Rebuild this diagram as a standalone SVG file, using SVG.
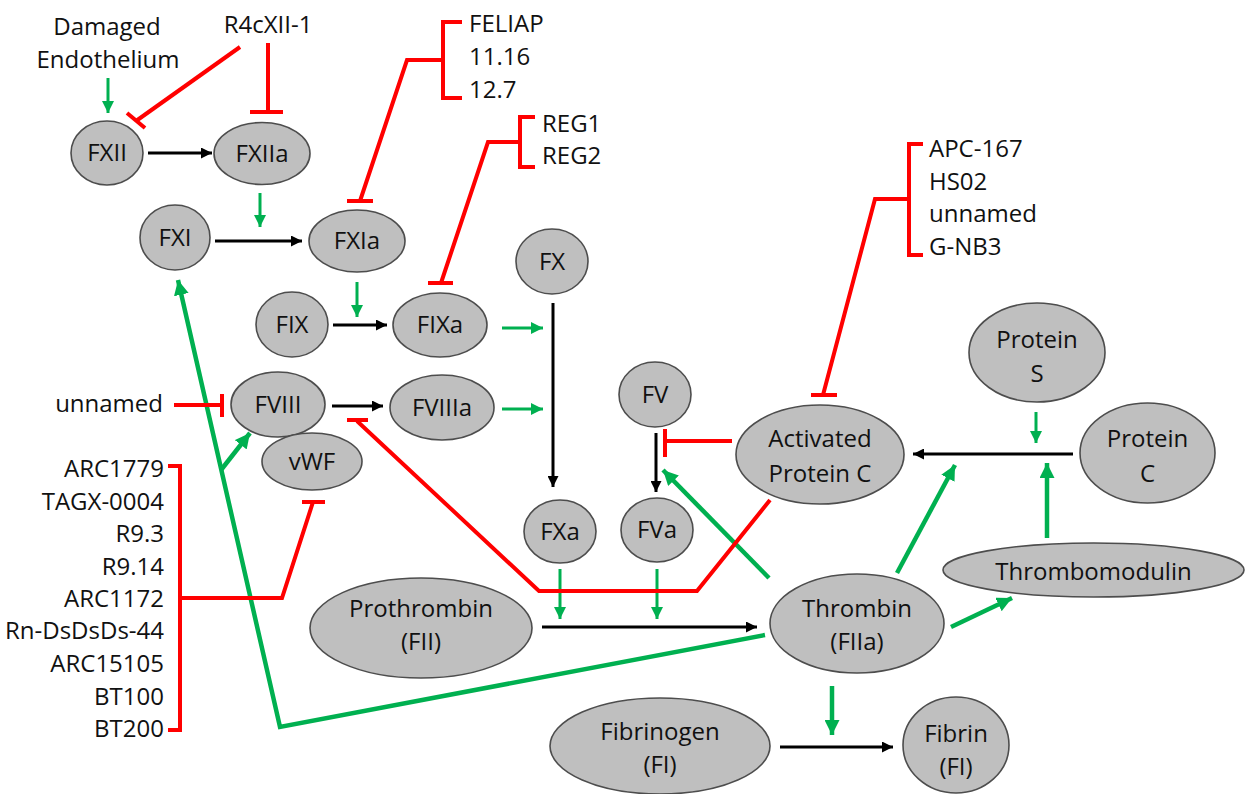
<svg xmlns="http://www.w3.org/2000/svg" width="1245" height="794" viewBox="0 0 1245 794">
<defs>
<style>
text{font-family:"Open Sans","Liberation Sans",sans-serif;font-size:24px;fill:#111}
.c{text-anchor:middle}
.r{text-anchor:end}
ellipse{fill:#bfbfbf;stroke:#4d4d4d;stroke-width:1.6}
.k{stroke:#000;stroke-width:3;fill:none;marker-end:url(#ak)}
.g{stroke:#00b050;stroke-width:3;fill:none;marker-end:url(#ag)}
.G{stroke:#00b050;stroke-width:4.5;fill:none}
.Ga{stroke:#00b050;stroke-width:4.5;fill:none;marker-end:url(#agL)}
.rd{stroke:#ff0000;stroke-width:4;fill:none}
</style>
<marker id="ak" viewBox="0 0 10 10" refX="10" refY="5" markerUnits="userSpaceOnUse" markerWidth="12" markerHeight="11" orient="auto"><path d="M0,0L10,5L0,10z" fill="#000"/></marker>
<marker id="ag" viewBox="0 0 10 10" refX="10" refY="5" markerUnits="userSpaceOnUse" markerWidth="12" markerHeight="12" orient="auto"><path d="M0,0L10,5L0,10z" fill="#00b050"/></marker>
<marker id="agL" viewBox="0 0 10 10" refX="10" refY="5" markerUnits="userSpaceOnUse" markerWidth="15" markerHeight="15" orient="auto"><path d="M0,0L10,5L0,10z" fill="#00b050"/></marker>
</defs>
<rect width="1245" height="794" fill="#fff"/>

<g id="connectors">
<!-- black reactions -->
<line class="k" x1="148" y1="153" x2="212" y2="153"/>
<line class="k" x1="215" y1="241" x2="302" y2="241"/>
<line class="k" x1="333" y1="325" x2="387" y2="325"/>
<line class="k" x1="332" y1="406" x2="383" y2="406"/>
<line class="k" x1="553" y1="303" x2="553" y2="487"/>
<line class="k" x1="656" y1="433" x2="656" y2="492"/>
<line class="k" x1="542" y1="627" x2="757" y2="627"/>
<line class="k" x1="780" y1="747" x2="893" y2="747"/>
<line class="k" x1="1073" y1="454" x2="913" y2="454"/>
<!-- green short -->
<line class="g" x1="108" y1="78" x2="108" y2="113"/>
<line class="g" x1="260" y1="193" x2="260" y2="227"/>
<line class="g" x1="357" y1="282" x2="357" y2="317"/>
<line class="g" x1="502" y1="328" x2="543" y2="328"/>
<line class="g" x1="502" y1="409" x2="543" y2="409"/>
<line class="g" x1="560" y1="569" x2="560" y2="619"/>
<line class="g" x1="657" y1="569" x2="657" y2="619"/>
<line class="g" x1="1036" y1="412" x2="1036" y2="443"/>
<!-- green thick -->
<polyline class="Ga" points="765,635 280,727 178,280"/>
<line class="Ga" x1="221" y1="470" x2="250" y2="433"/>
<line class="Ga" x1="769" y1="578" x2="663" y2="470"/>
<line class="Ga" x1="897" y1="573" x2="955" y2="465"/>
<line class="Ga" x1="951" y1="627" x2="1012" y2="598"/>
<line class="Ga" x1="1047" y1="538" x2="1047" y2="463"/>
<line class="Ga" x1="832" y1="686" x2="832" y2="735"/>
<!-- red inhibitions -->
<line class="rd" x1="240" y1="47" x2="136" y2="121"/>
<line class="rd" x1="127" y1="113" x2="145" y2="128"/>
<line class="rd" x1="268" y1="43" x2="268" y2="112"/>
<line class="rd" x1="250" y1="112" x2="283" y2="112"/>
<path class="rd" d="M462,22H443V98H462M443,60H407L360,201"/>
<line class="rd" x1="347" y1="201" x2="373" y2="201"/>
<path class="rd" d="M535,117H520V167H535M520,142H488L441,283"/>
<line class="rd" x1="428" y1="283" x2="453" y2="283"/>
<path class="rd" d="M923,144H909V255H923M909,199H875L823,395"/>
<line class="rd" x1="811" y1="395" x2="837" y2="395"/>
<line class="rd" x1="174" y1="405" x2="222" y2="405"/>
<line class="rd" x1="222" y1="394" x2="222" y2="417"/>
<path class="rd" d="M168,466H180V730H168M180,598H282L313,502"/>
<line class="rd" x1="302" y1="502" x2="325" y2="502"/>
<path class="rd" d="M770,500L697,591H539L357,421"/>
<line class="rd" x1="347" y1="420" x2="368" y2="420"/>
<line class="rd" x1="732" y1="441" x2="665" y2="441"/>
<line class="rd" x1="665" y1="429" x2="665" y2="457"/>
</g>

<g id="labels">
<text class="c" x="107" y="35">Damaged</text>
<text class="c" x="108" y="68">Endothelium</text>
<text class="c" x="268" y="33">R4cXII-1</text>
<text x="469" y="32">FELIAP</text>
<text x="469" y="65">11.16</text>
<text x="469" y="98">12.7</text>
<text x="542" y="132">REG1</text>
<text x="542" y="164">REG2</text>
<text x="929" y="157">APC-167</text>
<text x="929" y="190">HS02</text>
<text x="929" y="222">unnamed</text>
<text x="929" y="255">G-NB3</text>
<text class="r" x="163" y="412">unnamed</text>
<text class="r" x="164" y="477">ARC1779</text>
<text class="r" x="164" y="510">TAGX-0004</text>
<text class="r" x="164" y="542">R9.3</text>
<text class="r" x="164" y="575">R9.14</text>
<text class="r" x="164" y="607">ARC1172</text>
<text class="r" x="164" y="639">Rn-DsDsDs-44</text>
<text class="r" x="164" y="672">ARC15105</text>
<text class="r" x="164" y="705">BT100</text>
<text class="r" x="164" y="737">BT200</text>
</g>

<g id="FXII"><ellipse cx="107" cy="153" rx="36" ry="32"/><text class="c" x="107" y="161">FXII</text></g>
<g id="FXIIa"><ellipse cx="262" cy="153.5" rx="48" ry="31"/><text class="c" x="262" y="162">FXIIa</text></g>
<g id="FXI"><ellipse cx="175" cy="237.5" rx="35" ry="32.5"/><text class="c" x="175" y="246">FXI</text></g>
<g id="FXIa"><ellipse cx="357" cy="241" rx="48" ry="31"/><text class="c" x="357" y="249">FXIa</text></g>
<g id="FIX"><ellipse cx="292" cy="324.5" rx="36" ry="32.5"/><text class="c" x="292" y="333">FIX</text></g>
<g id="FIXa"><ellipse cx="440" cy="325" rx="47" ry="32"/><text class="c" x="440" y="333">FIXa</text></g>
<g id="FX"><ellipse cx="552" cy="261.5" rx="36" ry="32.5"/><text class="c" x="552" y="270">FX</text></g>
<g id="FVIII"><ellipse cx="278" cy="404.5" rx="47" ry="32.5"/><text class="c" x="278" y="413">FVIII</text></g>
<g id="vWF"><ellipse cx="312" cy="461.5" rx="50" ry="28.5"/><text class="c" x="312" y="470">vWF</text></g>
<g id="FVIIIa"><ellipse cx="442" cy="407.5" rx="52" ry="32.5"/><text class="c" x="442" y="416">FVIIIa</text></g>
<g id="FV"><ellipse cx="655" cy="394.5" rx="36" ry="32.5"/><text class="c" x="655" y="403">FV</text></g>
<g id="FXa"><ellipse cx="560" cy="531.5" rx="36" ry="31.5"/><text class="c" x="560" y="540">FXa</text></g>
<g id="FVa"><ellipse cx="657" cy="530" rx="36" ry="32"/><text class="c" x="657" y="538">FVa</text></g>
<g id="APC"><ellipse cx="820" cy="454.5" rx="84" ry="49.5"/><text class="c" x="820" y="447">Activated</text><text class="c" x="820" y="482">Protein C</text></g>
<g id="ProteinS"><ellipse cx="1037" cy="352.5" rx="68" ry="49.5"/><text class="c" x="1037" y="348">Protein</text><text class="c" x="1037" y="382">S</text></g>
<g id="ProteinC"><ellipse cx="1147.5" cy="453" rx="67.5" ry="50"/><text class="c" x="1147.5" y="447">Protein</text><text class="c" x="1147.5" y="482">C</text></g>
<g id="Thrombomodulin"><ellipse cx="1093.5" cy="570" rx="150.5" ry="27"/><text class="c" x="1093.5" y="580">Thrombomodulin</text></g>
<g id="Prothrombin"><ellipse cx="421" cy="628" rx="111" ry="50"/><text class="c" x="421" y="617">Prothrombin</text><text class="c" x="421" y="650">(FII)</text></g>
<g id="Thrombin"><ellipse cx="857" cy="623.5" rx="87" ry="49.5"/><text class="c" x="857" y="617">Thrombin</text><text class="c" x="857" y="650">(FIIa)</text></g>
<g id="Fibrinogen"><ellipse cx="660" cy="746" rx="110" ry="48"/><text class="c" x="660" y="740">Fibrinogen</text><text class="c" x="660" y="773">(FI)</text></g>
<g id="Fibrin"><ellipse cx="956" cy="745" rx="53" ry="48"/><text class="c" x="956" y="742">Fibrin</text><text class="c" x="956" y="775">(FI)</text></g>
</svg>
